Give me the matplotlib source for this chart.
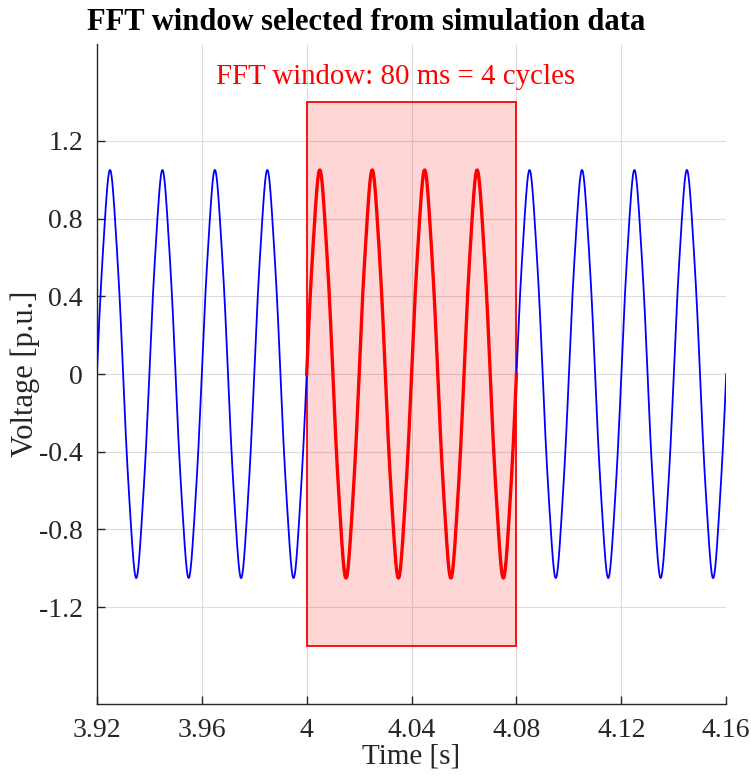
import numpy as np
import matplotlib
matplotlib.use("Agg")
import matplotlib.pyplot as plt
from matplotlib.patches import Rectangle

plt.rcParams['font.family'] = ['Liberation Serif', 'DejaVu Serif']

# Signal description
f0 = 50.0                      # Hz
harm_orders = [1, 3, 5]
harm_amps = [1.0, -0.03, 0.02]  # p.u., sine coefficients
t_start, t_end = 3.92, 4.16
win_start, win_end = 4.00, 4.08
win_ymin, win_ymax = -1.4, 1.4
win_label = "FFT window: 80 ms = 4 cycles"
title = "FFT window selected from simulation data"

xticks = [3.92, 3.96, 4.00, 4.04, 4.08, 4.12, 4.16]
xticklabels = ["3.92", "3.96", "4", "4.04", "4.08", "4.12", "4.16"]
yticks = [-1.2, -0.8, -0.4, 0, 0.4, 0.8, 1.2]
yticklabels = ["-1.2", "-0.8", "-0.4", "0", "0.4", "0.8", "1.2"]

t = np.linspace(t_start, t_end, 4801)
v = sum(a * np.sin(2 * np.pi * f0 * n * t) for n, a in zip(harm_orders, harm_amps))
mask = (t >= win_start) & (t <= win_end)

fig = plt.figure(figsize=(7.51, 7.80), dpi=100)
ax = fig.add_axes([0.129, 0.097, 0.838, 0.847])

ax.plot(t, v, color='#0000ff', lw=1.3, zorder=3)
ax.add_patch(Rectangle((win_start, win_ymin), win_end - win_start, win_ymax - win_ymin,
                       facecolor=(1, 0, 0, 0.16), edgecolor='#ff0000', lw=1.3, zorder=2))
ax.plot(t[mask], v[mask], color='#ff0000', lw=2.4, zorder=4)
ax.text(4.034, 1.53, win_label, color='#ff0000',
        ha='center', va='center', fontsize=20.8)

ax.set_xlim(t_start, t_end)
ax.set_ylim(-1.7, 1.7)
ax.set_xticks(xticks)
ax.set_xticklabels(xticklabels)
ax.set_yticks(yticks)
ax.set_yticklabels(yticklabels)
ax.tick_params(direction='in', labelsize=20, colors='#262626', length=6, width=1, pad=10)
ax.grid(True, color='#dcdcdc', lw=0.8)
ax.set_axisbelow(True)
for s in ['top', 'right']:
    ax.spines[s].set_visible(False)
for s in ['left', 'bottom']:
    ax.spines[s].set_color('#262626')
    ax.spines[s].set_linewidth(1.0)

ax.set_xlabel("Time [s]", fontsize=21, color='#262626', labelpad=0)
ax.set_ylabel("Voltage [p.u.]", fontsize=22, color='#262626', labelpad=-1)
fig.text(87 / 751, 1 - 30 / 780, title, fontsize=22, fontweight='bold',
         color='#000000', ha='left', va='baseline')

fig.savefig("out.png", dpi=100)
